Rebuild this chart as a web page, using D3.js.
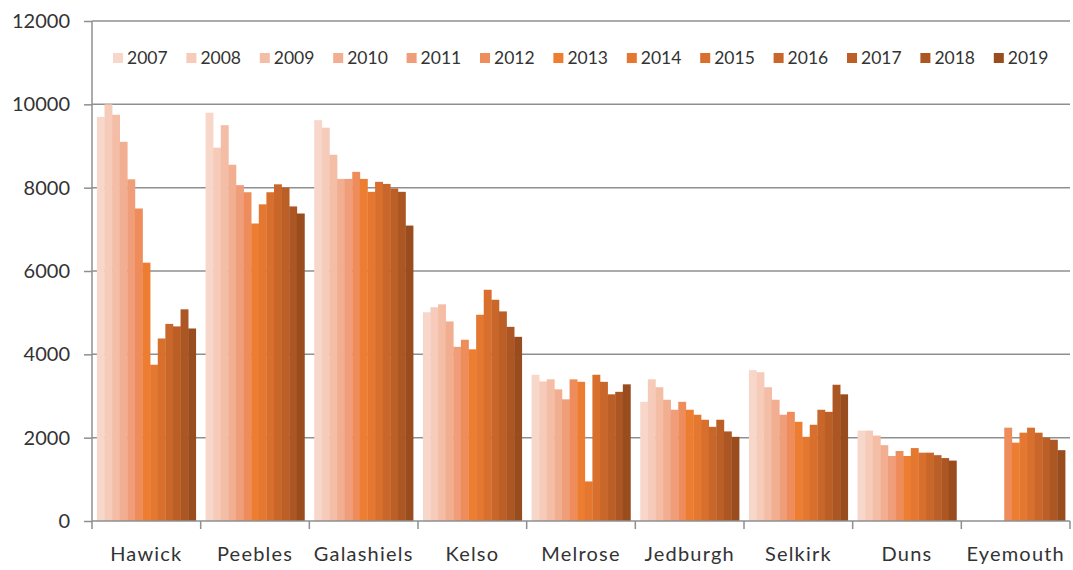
<!DOCTYPE html>
<html>
<head>
<meta charset="utf-8">
<script src="https://cdn.jsdelivr.net/npm/d3@7"></script>
<style>
  html, body { margin: 0; padding: 0; background: #fff; }
  svg { display: block; font-family: Lato, "Open Sans", sans-serif; }
</style>
</head>
<body>
<svg id="chart" width="1073" height="570"></svg>
<script>
const categories = ["Hawick", "Peebles", "Galashiels", "Kelso", "Melrose", "Jedburgh", "Selkirk", "Duns", "Eyemouth"];
const years = ["2007","2008","2009","2010","2011","2012","2013","2014","2015","2016","2017","2018","2019"];
const yTicks = [0, 2000, 4000, 6000, 8000, 10000, 12000];

// values per town, in year order 2007..2019 (null = no data)
const hawick     = [9700, 10000, 9750, 9100, 8200, 7500, 6200, 3750, 4380, 4730, 4670, 5080, 4620];
const peebles    = [9800, 8960, 9500, 8550, 8060, 7890, 7140, 7600, 7890, 8080, 8000, 7550, 7380];
const galashiels = [9620, 9440, 8790, 8210, 8210, 8380, 8210, 7900, 8140, 8090, 7980, 7900, 7090];
const kelso      = [5010, 5130, 5200, 4790, 4180, 4350, 4120, 4950, 5550, 5310, 5030, 4660, 4420];
const melrose    = [3510, 3350, 3400, 3160, 2920, 3400, 3340, 950, 3510, 3340, 3040, 3100, 3280];
const jedburgh   = [2860, 3400, 3210, 2910, 2670, 2860, 2670, 2550, 2430, 2260, 2430, 2150, 2020];
const selkirk    = [3620, 3570, 3210, 2910, 2550, 2620, 2380, 2020, 2310, 2670, 2620, 3270, 3040];
const duns       = [2170, 2170, 2050, 1820, 1560, 1680, 1560, 1750, 1640, 1640, 1580, 1510, 1450];
const eyemouth   = [null, null, null, null, null, 2240, 1880, 2120, 2240, 2120, 2000, 1950, 1700];

const seriesByTown = [hawick, peebles, galashiels, kelso, melrose, jedburgh, selkirk, duns, eyemouth];

const colors = ["#f8d7cb", "#f6cbb9", "#f4bda6", "#f2ae91", "#f09d79", "#ee8c5c", "#ed7d31",
                "#e57830", "#d86f2d", "#c9672a", "#bb5f27", "#ab5623", "#994c1e"];

const svg = d3.select("#chart");
const mLeft = 92, mRight = 1070, mTop = 21, mBottom = 521;

const x = d3.scaleBand().domain(categories).range([mLeft, mRight]).paddingInner(0.09).paddingOuter(0.045);
const xi = d3.scaleBand().domain(years).range([0, x.bandwidth()]).padding(0);
const y = d3.scaleLinear().domain([0, 12000]).range([mBottom, mTop]);
const color = d3.scaleOrdinal().domain(years).range(colors);

const gridColor = "#8f8f8f";
const textColor = "#333333";

// gridlines
svg.append("g").selectAll("line").data(yTicks.filter(d => d > 0)).join("line")
  .attr("x1", mLeft).attr("x2", mRight)
  .attr("y1", d => y(d)).attr("y2", d => y(d))
  .attr("stroke", gridColor).attr("stroke-width", 1.5);

// bars
const flat = [];
categories.forEach((c, ci) => {
  years.forEach((yr, yi) => {
    const v = seriesByTown[ci][yi];
    if (v != null) flat.push({cat: c, year: yr, value: v});
  });
});
svg.append("g").selectAll("rect").data(flat).join("rect")
  .attr("x", d => x(d.cat) + xi(d.year))
  .attr("width", xi.bandwidth() + 0.3)
  .attr("y", d => y(d.value))
  .attr("height", d => y(0) - y(d.value))
  .attr("fill", d => color(d.year));

// y axis
const yAxis = d3.axisLeft(y).tickValues(yTicks).tickSize(8).tickPadding(14).tickFormat(d3.format("d"));
const gy = svg.append("g").attr("transform", `translate(${mLeft},0)`).call(yAxis);
gy.select(".domain").attr("stroke", gridColor).attr("stroke-width", 1.5).attr("d", `M0,${mBottom}V${mTop}`);
gy.selectAll(".tick line").attr("stroke", gridColor).attr("stroke-width", 1.5);
gy.selectAll(".tick text").attr("fill", textColor).style("font-size", "20px").style("font-family", "Lato, sans-serif");

// x axis
const xAxis = d3.axisBottom(x).tickSize(0).tickPadding(26);
const gx = svg.append("g").attr("transform", `translate(0,${mBottom})`).call(xAxis);
gx.select(".domain").attr("stroke", gridColor).attr("stroke-width", 1.5).attr("d", `M${mLeft},0H${mRight}`);
gx.selectAll(".tick text").attr("fill", textColor).style("font-size", "20px")
  .style("letter-spacing", "1.2px").style("font-family", "Lato, sans-serif");
// tick marks at category boundaries
const bounds = d3.range(categories.length + 1).map(i => mLeft + i * x.step());
svg.append("g").selectAll("line").data(bounds).join("line")
  .attr("x1", d => d).attr("x2", d => d)
  .attr("y1", mBottom).attr("y2", mBottom + 8)
  .attr("stroke", gridColor).attr("stroke-width", 1.5);

// legend
const legend = svg.append("g");
const lgStart = 113, lgStep = 73.4, lgY = 58;
const items = legend.selectAll("g").data(years).join("g")
  .attr("transform", (d, i) => `translate(${lgStart + i * lgStep},${lgY})`);
items.append("rect").attr("x", 0).attr("y", -5).attr("width", 10).attr("height", 10)
  .attr("fill", d => color(d));
items.append("text").attr("x", 14).attr("y", 0).attr("dy", "0.36em")
  .attr("fill", textColor).style("font-size", "17.5px").text(d => d);
</script>
</body>
</html>
